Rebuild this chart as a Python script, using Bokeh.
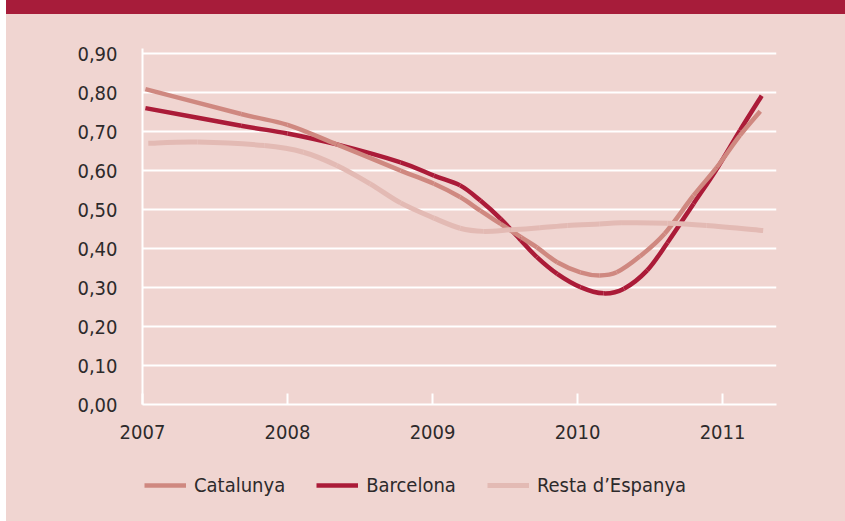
from bokeh.plotting import figure
from bokeh.models import Range1d, FixedTicker, Legend, LegendItem, Div
from bokeh.layouts import column
from bokeh.embed import file_html
from bokeh.resources import INLINE

# ---- data ----
years_ticks = [2007, 2008, 2009, 2010, 2011]
year_labels = ["2007", "2008", "2009", "2010", "2011"]
y_ticks = [0.0, 0.1, 0.2, 0.3, 0.4, 0.5, 0.6, 0.7, 0.8, 0.9]
y_labels = ["0,00", "0,10", "0,20", "0,30", "0,40", "0,50", "0,60", "0,70", "0,80", "0,90"]

cat_x = [2007.02, 2007.68, 2008.00, 2008.34, 2008.78, 2009.01, 2009.19, 2009.33,
         2009.47, 2009.61, 2009.72, 2009.86, 2010.02, 2010.15, 2010.27, 2010.43,
         2010.60, 2010.80, 2010.96, 2011.12, 2011.26]
cat_y = [0.809, 0.745, 0.717, 0.667, 0.600, 0.566, 0.532, 0.497,
         0.463, 0.429, 0.403, 0.365, 0.339, 0.331, 0.339, 0.380,
         0.438, 0.536, 0.608, 0.690, 0.752]

bcn_x = [2007.02, 2007.68, 2008.00, 2008.34, 2008.78, 2009.01, 2009.19, 2009.33,
         2009.47, 2009.61, 2009.72, 2009.86, 2010.02, 2010.18, 2010.32, 2010.48,
         2010.62, 2010.80, 2010.96, 2011.12, 2011.27]
bcn_y = [0.760, 0.715, 0.695, 0.667, 0.621, 0.587, 0.562, 0.523,
         0.476, 0.421, 0.378, 0.335, 0.301, 0.285, 0.297, 0.344,
         0.415, 0.515, 0.604, 0.703, 0.792]

res_x = [2007.04, 2007.38, 2007.84, 2008.11, 2008.34, 2008.57, 2008.78, 2009.01,
         2009.19, 2009.35, 2009.54, 2009.74, 2009.93, 2010.15, 2010.30, 2010.62,
         2010.89, 2011.28]
res_y = [0.670, 0.673, 0.664, 0.647, 0.613, 0.566, 0.517, 0.478,
         0.452, 0.444, 0.448, 0.453, 0.459, 0.463, 0.466, 0.465,
         0.459, 0.446]

names = ["Catalunya", "Barcelona", "Resta d\u2019Espanya"]

# ---- styles ----
BG = "#f0d5d1"
BAND = "#a71c3a"
C_CAT = "#cf8880"
C_BCN = "#ab1b38"
C_RES = "#e3bab4"
TXT = "#2d2a2b"
FONT = "DejaVu Sans Condensed"
FS = "20px"


def smooth_segments(xs, ys):
    """Cubic Bezier segments (Catmull-Rom) passing through the data points."""
    n = len(xs)
    out = {k: [] for k in ("x0", "y0", "x1", "y1", "cx0", "cy0", "cx1", "cy1")}
    for i in range(n - 1):
        xp, yp = (xs[i - 1], ys[i - 1]) if i > 0 else (xs[i], ys[i])
        xn, yn = (xs[i + 2], ys[i + 2]) if i + 2 < n else (xs[i + 1], ys[i + 1])
        out["x0"].append(xs[i]); out["y0"].append(ys[i])
        out["x1"].append(xs[i + 1]); out["y1"].append(ys[i + 1])
        out["cx0"].append(xs[i] + (xs[i + 1] - xp) / 6.0)
        out["cy0"].append(ys[i] + (ys[i + 1] - yp) / 6.0)
        out["cx1"].append(xs[i + 1] - (xn - xs[i]) / 6.0)
        out["cy1"].append(ys[i + 1] - (yn - ys[i]) / 6.0)
    return out


band = Div(text="", width=839, height=14,
           styles={"background-color": BAND, "margin": "0", "padding": "0"})

p = figure(width=839, height=446, output_backend="svg", toolbar_location=None,
           x_range=Range1d(2007, 2011.372), y_range=Range1d(0, 0.913),
           min_border_left=136, min_border_right=69, min_border_top=34,
           min_border_bottom=56)
p.background_fill_color = BG
p.border_fill_color = BG
p.outline_line_color = None

# grid
p.xgrid.grid_line_color = None
p.ygrid.ticker = FixedTicker(ticks=y_ticks)
p.ygrid.grid_line_color = "white"
p.ygrid.grid_line_width = 2

# axes
xa = p.xaxis[0]
xa.ticker = FixedTicker(ticks=years_ticks)
xa.major_label_overrides = {t: l for t, l in zip(years_ticks, year_labels)}
xa.axis_line_color = "white"
xa.axis_line_width = 2
xa.major_tick_line_color = "white"
xa.major_tick_line_width = 2
xa.major_tick_in = 11
xa.major_tick_out = 0
xa.minor_tick_line_color = None
xa.major_label_standoff = 20
xa.major_label_text_font = FONT
xa.major_label_text_font_size = FS
xa.major_label_text_color = TXT

ya = p.yaxis[0]
ya.ticker = FixedTicker(ticks=y_ticks)
ya.major_label_overrides = {t: l for t, l in zip(y_ticks, y_labels)}
ya.axis_line_color = "white"
ya.axis_line_width = 2
ya.major_tick_line_color = None
ya.major_tick_in = 0
ya.major_tick_out = 0
ya.minor_tick_line_color = None
ya.major_label_standoff = 25
ya.major_label_text_font = FONT
ya.major_label_text_font_size = FS
ya.major_label_text_color = TXT

# smooth lines (Barcelona under Catalunya under Resta)
series = [(bcn_x, bcn_y, C_BCN, 4.5), (cat_x, cat_y, C_CAT, 4.5), (res_x, res_y, C_RES, 5)]
for xs, ys, col, lw in series:
    p.bezier(source=smooth_segments(xs, ys), x0="x0", y0="y0", x1="x1", y1="y1",
             cx0="cx0", cy0="cy0", cx1="cx1", cy1="cy1",
             line_color=col, line_width=lw, line_cap="butt")

# ---- legend strip (separate small figure, frame aligned with the chart) ----
lg = figure(width=839, height=61, output_backend="svg", toolbar_location=None,
            x_range=Range1d(0, 1), y_range=Range1d(0, 1),
            x_axis_type=None, y_axis_type=None,
            min_border_left=136, min_border_right=69, min_border_top=0, min_border_bottom=0)
lg.background_fill_color = BG
lg.border_fill_color = BG
lg.outline_line_color = None
lg.xgrid.visible = False
lg.ygrid.visible = False

# the series again, but outside this strip's ranges: only their legend swatches show
r_cat = lg.line(cat_x, cat_y, line_color=C_CAT, line_width=4.5)
r_bcn = lg.line(bcn_x, bcn_y, line_color=C_BCN, line_width=4.5)
r_res = lg.line(res_x, res_y, line_color=C_RES, line_width=5)

legend = Legend(items=[LegendItem(label=names[0], renderers=[r_cat]),
                       LegendItem(label=names[1], renderers=[r_bcn]),
                       LegendItem(label=names[2], renderers=[r_res])],
                orientation="horizontal", location=(2, 24))
legend.background_fill_alpha = 0
legend.border_line_color = None
legend.padding = 0
legend.margin = 0
legend.spacing = 31
legend.glyph_width = 42
legend.glyph_height = 20
legend.label_height = 20
legend.label_standoff = 8
legend.label_text_font = FONT
legend.label_text_font_size = FS
legend.label_text_color = TXT
lg.add_layout(legend, "center")

layout = column(band, p, lg, spacing=0, margin=(0, 0, 0, 6),
                styles={"background-color": BG})

open("out.html", "w").write(file_html(layout, INLINE))
